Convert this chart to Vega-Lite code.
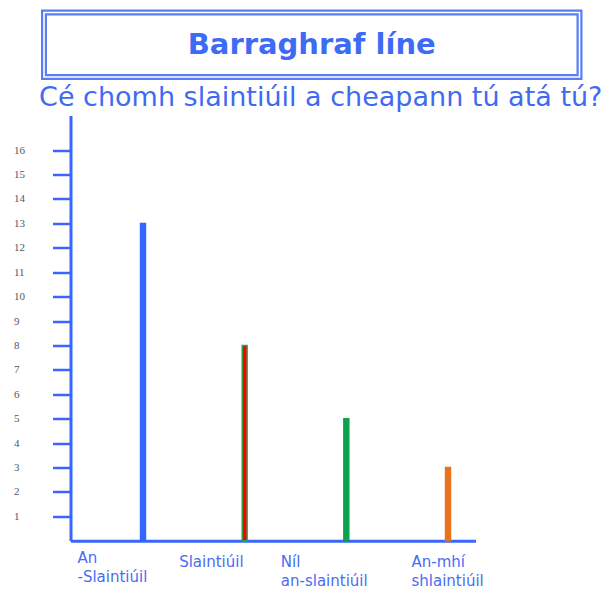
{
  "$schema": "https://vega.github.io/schema/vega-lite/v6.json",
  "background": "white",
  "padding": {"left": 13, "top": 9.5, "right": 0, "bottom": 0},
  "spacing": 3,
  "config": {"view": {"stroke": null}},
  "vconcat": [
    {
      "width": 535.5,
      "height": 64.5,
      "data": {"values": [{"title": "Barraghraf líne"}]},
      "layer": [
        {
          "mark": {"type": "rect", "fill": "transparent", "stroke": "#5a7cf7", "strokeWidth": 6, "clip": false},
          "encoding": {}
        },
        {
          "mark": {"type": "rect", "fill": "transparent", "stroke": "white", "strokeWidth": 1.6, "clip": false},
          "encoding": {}
        },
        {
          "mark": {"type": "text", "font": "DejaVu Sans", "fontWeight": "bold", "fontSize": 29, "color": "#3d6bf5", "baseline": "middle", "align": "center"},
          "encoding": {
            "text": {"field": "title"},
            "y": {"datum": 0, "type": "quantitative", "scale": {"domain": [-1, 1]}, "axis": null}
          }
        }
      ]
    },
    {
      "width": 535.5,
      "height": 425.3,
      "title": {
        "text": "Cé chomh slaintiúil a cheapann tú atá tú?",
        "font": "DejaVu Sans",
        "fontSize": 27,
        "fontWeight": "normal",
        "color": "#3f6af2",
        "anchor": "middle",
        "frame": "group",
        "dx": 9,
        "offset": 4
      },
      "data": {
        "values": [
          {"category": "An-Slaintiúil", "count": 13},
          {"category": "Slaintiúil", "count": 8},
          {"category": "Níl an-slaintiúil", "count": 5},
          {"category": "An-mhí shlaintiúil", "count": 3}
        ]
      },
      "mark": {"type": "bar", "size": 5, "strokeWidth": 1.4},
      "encoding": {
        "x": {
          "field": "category",
          "type": "nominal",
          "sort": null,
          "scale": {"type": "point", "range": [26.5, 431.5], "padding": 0.4918, "align": 0.725},
          "axis": {
            "domain": true,
            "domainColor": "#3a66ff",
            "domainWidth": 3,
            "ticks": false,
            "tickSize": 0,
            "title": null,
            "labelAngle": 0,
            "labelAlign": "left",
            "labelBaseline": "top",
            "labelFont": "DejaVu Sans",
            "labelFontSize": 15,
            "labelColor": "#4a6cf5",
            "labelLineHeight": 19,
            "labelOverlap": false,
            "labelLimit": 300,
            "labelOffset": {"condition": {"test": "datum.value === 'An-mhí shlaintiúil'", "value": -37}, "value": -66},
            "labelPadding": {"condition": {"test": "datum.value === 'An-Slaintiúil'", "value": 10}, "value": 14},
            "labelExpr": "datum.value == 'An-Slaintiúil' ? ['An', '-Slaintiúil'] : datum.value == 'Níl an-slaintiúil' ? ['Níl', 'an-slaintiúil'] : datum.value == 'An-mhí shlaintiúil' ? ['An-mhí', 'shlaintiúil'] : datum.value"
          }
        },
        "y": {
          "field": "count",
          "type": "quantitative",
          "scale": {"domain": [0, 17.42], "nice": false, "zero": true},
          "axis": {
            "values": [1, 2, 3, 4, 5, 6, 7, 8, 9, 10, 11, 12, 13, 14, 15, 16],
            "tickCount": 20,
            "offset": -26.5,
            "grid": false,
            "title": null,
            "tickSize": 18,
            "tickWidth": 2.5,
            "tickColor": "#3a66ff",
            "domainColor": "#3a66ff",
            "domainWidth": 3,
            "labelAlign": "left",
            "labelBaseline": "middle",
            "labelPadding": 39,
            "labelOverlap": false,
            "labelFont": "Liberation Serif",
            "labelFontSize": 11,
            "labelColor": "#50566a"
          }
        },
        "fill": {
          "field": "category",
          "type": "nominal",
          "scale": {"domain": ["An-Slaintiúil", "Slaintiúil", "Níl an-slaintiúil", "An-mhí shlaintiúil"], "range": ["#3366ff", "#ff0000", "#0aa24c", "#e8731c"]},
          "legend": null
        },
        "stroke": {
          "field": "category",
          "type": "nominal",
          "scale": {"domain": ["An-Slaintiúil", "Slaintiúil", "Níl an-slaintiúil", "An-mhí shlaintiúil"], "range": ["#3366ff", "#1fae4a", "#0aa24c", "#e8731c"]},
          "legend": null
        }
      }
    }
  ]
}
